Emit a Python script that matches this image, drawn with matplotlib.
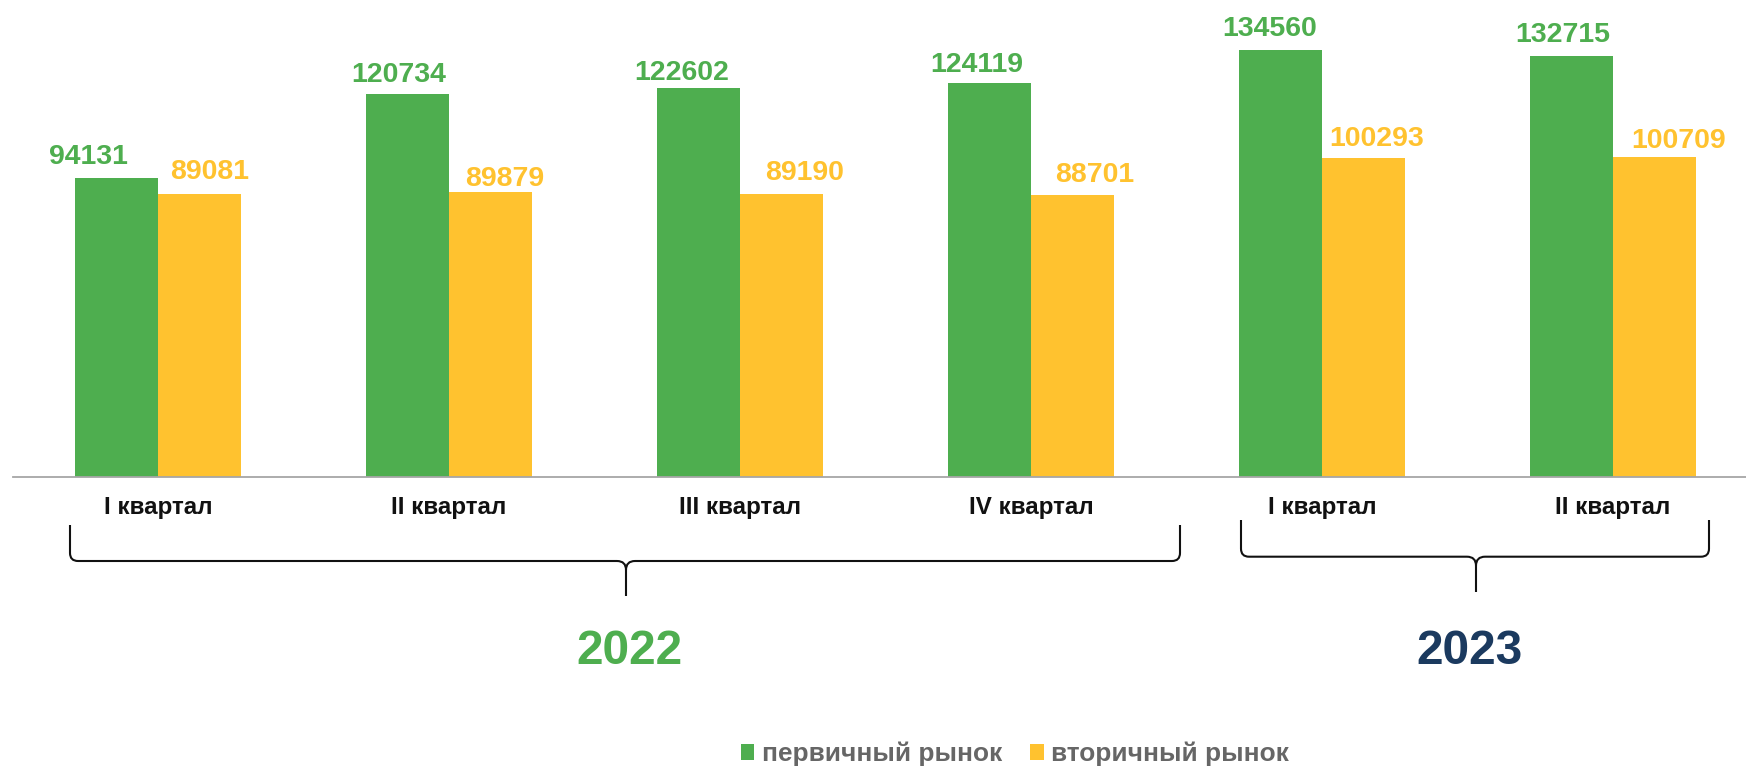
import matplotlib
matplotlib.use("Agg")
import matplotlib.pyplot as plt
from matplotlib.path import Path
from matplotlib.patches import PathPatch

plt.rcParams['font.family'] = ['Liberation Sans', 'DejaVu Sans']

# ---------------- data ----------------
quarters = ["I квартал", "II квартал", "III квартал", "IV квартал", "I квартал", "II квартал"]
primary = [94131, 120734, 122602, 124119, 134560, 132715]
secondary = [89081, 89879, 89190, 88701, 100293, 100709]
series_names = ["первичный рынок", "вторичный рынок"]
years = ["2022", "2023"]

# ---------------- style ----------------
W, H, DPI = 1746, 767, 100
PT = 72.0 / DPI  # points per pixel
green = "#4EAE4F"
yellow = "#FFC22F"
navy = "#1B3A5F"
gray_text = "#666666"

# per-label nudges (pixels) to mimic hand placement in the original
g_dx = [-28.5, -8.5, -17, -12.5, -11, -9]
g_dy = [14, 11.6, 7.3, 11, 13.4, 13.6]
y_dx = [10.5, 14, 23, 22.5, 13.5, 24]
y_dy = [14.7, 5.7, 14, 13.3, 12.3, 8.7]

fig = plt.figure(figsize=(W / DPI, H / DPI), dpi=DPI)
base_px = 476.7
ax = fig.add_axes([13 / W, (H - base_px) / H, (W - 13) / W, base_px / H])

n = len(quarters)
x = list(range(n))
bw = 83 / 291.0
ax.set_xlim(-(158 - 13) / 291.0, (n - 1) + (W - 1613) / 291.0)
ax.set_ylim(0, base_px / 0.003173)

b1 = ax.bar([xi - bw / 2 for xi in x], primary, width=bw, color=green, label=series_names[0], zorder=2)
b2 = ax.bar([xi + bw / 2 for xi in x], secondary, width=bw, color=yellow, label=series_names[1], zorder=2)

for sp in ["top", "left", "right"]:
    ax.spines[sp].set_visible(False)
ax.spines["bottom"].set_color("#A6A6A6")
ax.spines["bottom"].set_linewidth(1.3)
ax.set_yticks([])
ax.set_xticks([])

for i in range(n):
    ax.annotate(str(primary[i]), xy=(x[i] - bw / 2, primary[i]),
                xytext=(g_dx[i] * PT, g_dy[i] * PT), textcoords="offset points",
                ha="center", va="baseline", fontsize=20.5, fontweight="bold", color=green)
    ax.annotate(str(secondary[i]), xy=(x[i] + bw / 2, secondary[i]),
                xytext=(y_dx[i] * PT, y_dy[i] * PT), textcoords="offset points",
                ha="center", va="baseline", fontsize=20.5, fontweight="bold", color=yellow)
    ax.annotate(quarters[i], xy=(x[i], 0), xytext=(0, -(514 - base_px) * PT),
                textcoords="offset points", ha="center", va="baseline",
                fontsize=17.4, fontweight="bold", color="#111111", annotation_clip=False)

# overlay in pixel coordinates for braces and years
ov = fig.add_axes([0, 0, 1, 1], zorder=5)
ov.set_xlim(0, W)
ov.set_ylim(H, 0)
ov.axis("off")
ov.patch.set_alpha(0)


def brace(x0, x1, xc, top, mid, tip, r=8, rc=9):
    verts = [
        (x0, top), (x0, mid - r),
        (x0, mid), (x0 + r, mid),
        (xc - rc, mid),
        (xc, mid), (xc, mid + rc),
        (xc, tip),
        (xc, mid + rc),
        (xc, mid), (xc + rc, mid),
        (x1 - r, mid),
        (x1, mid), (x1, mid - r),
        (x1, top),
    ]
    codes = [Path.MOVETO, Path.LINETO,
             Path.CURVE3, Path.CURVE3,
             Path.LINETO,
             Path.CURVE3, Path.CURVE3,
             Path.LINETO,
             Path.MOVETO,
             Path.CURVE3, Path.CURVE3,
             Path.LINETO,
             Path.CURVE3, Path.CURVE3,
             Path.LINETO]
    ov.add_patch(PathPatch(Path(verts, codes), fill=False, lw=1.5, edgecolor="#111111",
                           capstyle="butt", joinstyle="round"))


brace(70, 1180, 626, 525, 561, 596)
brace(1241, 1709, 1476, 520, 556.7, 592)

ov.text(629, 664, years[0], ha="center", va="baseline", fontsize=34.5,
        fontweight="bold", color=green)
ov.text(1470, 664, years[1], ha="center", va="baseline", fontsize=34.5,
        fontweight="bold", color=navy)

leg = fig.legend(handles=[b1, b2], labels=series_names, loc="center",
                 bbox_to_anchor=(1015 / W, 1 - 754 / H), ncol=2, frameon=False,
                 fontsize=18.9, handlelength=0.52, handleheight=0.52,
                 handletextpad=0.3, columnspacing=1.05)
for t in leg.get_texts():
    t.set_color(gray_text)
    t.set_fontweight("bold")

fig.savefig("out.png", dpi=DPI)
